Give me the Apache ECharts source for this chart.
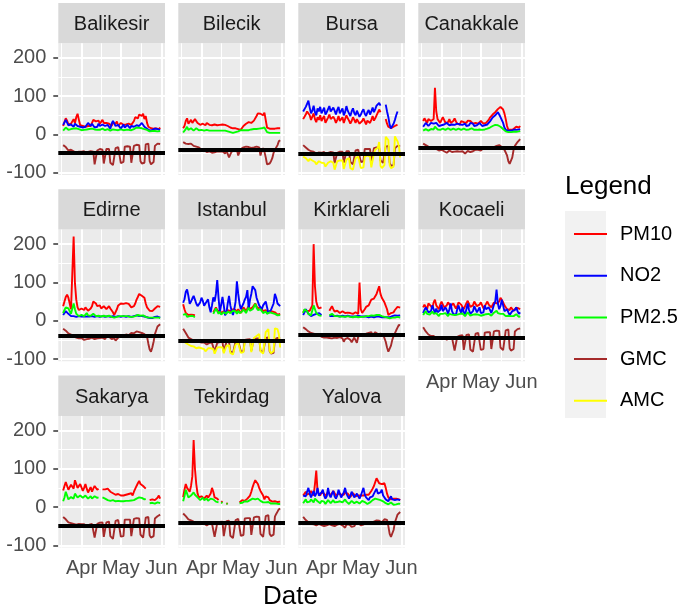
<!DOCTYPE html>
<html><head><meta charset="utf-8">
<script src="https://cdn.jsdelivr.net/npm/echarts@6/dist/echarts.min.js"></script>
<style>html,body{margin:0;padding:0;background:#fff}#c{width:684px;height:610px}</style>
</head><body><div id="c"></div>
<script>
// ---------- categories / labels ----------
const cities = ['Balikesir','Bilecik','Bursa','Canakkale','Edirne','Istanbul','Kirklareli','Kocaeli','Sakarya','Tekirdag','Yalova'];
const variables = ['PM10','NO2','PM2.5','GMC','AMC'];
const colors = ['#FF0000','#0000FF','#00FF00','#A52A2A','#FFFF00'];
const startDate = '2020-03-18'; // daily values, Mar 18 .. May 31 2020
const tickDates = ['2020-04-01','2020-05-01','2020-06-01'];
const tickLabels = ['Apr','May','Jun'];
const minorDates = ['2020-03-16T12:00:00Z','2020-04-16T00:00:00Z','2020-05-16T12:00:00Z'];
const yTicks = [-100, 0, 100, 200];
const yMinor = [-50, 50, 150];
const hlineValues = [-47, -40, -50, -35, -39, -53, -36, -44, -50, -41, -41];

// ---------- series values ----------
const Balikesir_PM10 = [22,32,42,36,26, 30,28,34,40,30, 45,54,38,24,20, 22,25,20,24,22, 26,22,30,38,40, 34,30,36,28,32, 38,30,26,30,34, 28,24,22,30,26, 28,34,22,26,30, 28,25,30,26,24, 28,30,25,28,35, 45,50,42,52,55, 48,54,40,48,30, 20,18,16,20,15, 18,16,20,14,18];
const Balikesir_NO2 = [25,30,38,34,24, 22,26,24,20,28, 25,22,18,20,16, 18,15,20,25,30, 26,22,28,24,18, 15,20,28,22,18, 26,30,22,18,25, 20,15,28,35,30, 22,18,25,20,15, 20,26,18,22,25, 20,16,22,26,20, 18,24,28,22,26, 30,25,20,24,15, 12,10,8,12,10, 15,20,14,10,12];
const Balikesir_PM25 = [10,14,18,15,12, 12,14,13,15,12, 16,18,14,12,11, 10,12,10,13,15, 14,12,15,16,13, 11,12,14,12,13, 15,13,11,12,14, 12,10,11,13,12, 12,14,11,12,13, 12,11,13,12,11, 12,13,11,12,14, 16,18,15,17,18, 16,17,14,15,12, 9,8,7,9,8, 9,10,8,7,9];
const Balikesir_GMC = [-28,-30,-33,-36,-42, -38,-40,-42,-44,-43, -48,-50,-45,-44,-45, -46,-44,-50,-52,-46, -45,-44,-43,-45,-78, -80,-42,-40,-38,-39, -40,-76,-79,-38,-36, -38,-74,-78,-80,-77, -36,-34,-33,-35,-75, -78,-72,-32,-30,-31, -30,-32,-74,-76,-30, -28,-27,-26,-28,-70, -76,-78,-74,-26,-25, -24,-70,-78,-80,-72, -30,-26,-24,-22,-25];

const Bilecik_PM10 = [16,22,35,42,28, 24,38,30,26,40, 44,30,28,25,30, 28,26,24,30,26, 25,28,24,22,26, 28,24,22,25,27, 26,24,25,23,22, 20,18,17,16,18, 16,15,14,13,12, 14,22,26,28,30, 32,28,30,34,36, 40,48,55,58,54, 56,50,57,52,18, 14,15,14,15,16, 15,14,16,15,16];
const Bilecik_PM25 = [5,8,14,20,12, 10,16,12,10,14, 16,12,11,10,12, 11,10,9,12,11, 10,11,10,9,10, 11,10,9,10,11, 10,9,10,9,8, 7,6,5,4,5, 6,7,8,10,11, 12,11,10,11,12, 11,12,13,12,14, 15,14,16,15,17, 16,15,18,14,6, 5,4,5,4,5, 4,5,4,3,4];
const Bilecik_GMC = [-20,-22,-24,-22,-25, -26,-24,-28,-30,-27, -32,-35,-34,-38,-40, -42,-40,-44,-46,-45, -44,-46,-48,-45,-47, -48,-44,-46,-45,-43, -44,-46,-50,-42,-44, -60,-52,-45,-44,-42, -43,-40,-55,-50,-38, -36,-34,-35,-32,-30, -33,-31,-35,-38,-34, -30,-32,-28,-34,-55, -42,-36,-45,-60,-78, -81,-76,-70,-62,-48, -40,-35,-28,-18,-15];

const Bursa_PM10 = [40,45,52,60,65, 50,38,42,55,40, 32,45,38,50,35, 42,48,30,35,44, 52,40,36,46,40, 30,38,48,35,40, 45,30,34,50,42, 36,28,35,45,38, 30,40,36,28,32, 35,42,34,26,36, 40,30,38,48,36, 42,50,55,65,58, null,null,null,40,28, 20,18,16,18,20, 22,24,25,null,null];
const Bursa_NO2 = [60,65,72,80,88, 70,55,62,75,58, 50,68,60,72,55, 62,70,52,58,66, 74,60,56,70,62, 52,64,72,55,60, 68,50,58,74,62, 55,48,60,68,56, 50,62,58,46,52, 60,66,54,48,58, 64,52,60,70,58, 66,75,70,82,75, null,null,null,78,60, 45,25,16,18,28, 38,50,60,null,null];
const Bursa_GMC = [-28,-30,-34,-37,-40, -42,-44,-46,-45,-46, -50,-52,-47,-46,-48, -47,-46,-52,-54,-48, -47,-46,-48,-47,-75, -80,-48,-46,-45,-46, -45,-74,-78,-44,-43, -44,-72,-76,-78,-74, -42,-41,-40,-42,-72, -76,-70,-38,-37,-38, -37,-38,-70,-74,-36, -35,-34,-33,-35,-68, -72,-74,-70,-32,-30, -30,-74,-82,-85,-80, -36,-32,-30,-28,-30];
const Bursa_AMC = [-58,-60,-62,-66,-70, -64,-66,-68,-70,-72, -78,-80,-70,-72,-74, -72,-75,-84,-86,-74, -72,-70,-72,-74,-92, -92,-70,-66,-68,-66, -68,-90,-92,-66,-64, -62,-88,-90,-92,-90, -62,-60,-58,-62,-88, -90,-86,-58,-56,-54, -55,-58,-86,-88,-50, -40,-38,-35,-20,-82, -88,-86,-80,-6,-10, -15,-80,-88,-90,-84, -5,-12,-18,-30,-60];

const Canakkale_PM10 = [35,42,38,30,40, 45,35,30,40,122, 60,40,35,30,28, 45,38,30,26,32, 40,30,28,35,42, 34,28,30,26,35, 38,32,28,30,36, 40,35,30,28,32, 30,26,28,32,35, 30,28,26,30,34, 38,44,48,52,55, 58,62,66,70,72, 74,65,55,40,22, 12,14,12,16,14, 18,20,15,18,22];
const Canakkale_NO2 = [20,25,30,28,22, 25,30,32,28,26, 30,25,22,20,24, 28,26,22,30,32, 24,20,26,30,25, 22,28,32,26,22, 25,30,28,22,20, 24,30,33,28,22, 20,24,28,30,26, 22,20,24,28,26, 30,34,38,44,48, 50,55,58,52,45, 40,30,18,12,10, 10,12,10,11,12, 14,12,10,13,14];
const Canakkale_PM25 = [10,12,14,12,10, 12,14,15,13,20, 16,13,11,12,14, 15,13,12,14,16, 14,12,13,15,14, 12,13,15,14,12, 13,15,14,12,11, 13,15,16,14,12, 11,12,14,13,12, 12,11,13,14,15, 16,18,20,22,24, 25,26,24,22,20, 18,14,10,8,7, 6,7,6,8,7, 8,7,6,8,9];
const Canakkale_GMC = [-24,-26,-28,-30,-32, -30,-33,-35,-36,-34, -38,-40,-42,-38,-40, -42,-44,-46,-48,-44, -42,-44,-46,-43,-45, -48,-44,-42,-45,-47, -44,-46,-50,-45,-43, -42,-46,-48,-44,-42, -40,-38,-40,-44,-42, -40,-36,-35,-34,-36, -34,-32,-35,-36,-33, -32,-30,-34,-28,-30, -33,-30,-40,-45,-55, -70,-77,-72,-60,-40, -30,-25,-20,-15,-12];

const Edirne_PM10 = [38,50,62,68,60, 55,30,25,220,98, 55,35,28,25,32, 30,28,35,30,26, 30,32,38,50,55, 45,38,35,40,32, 36,38,34,30,35, 38,32,28,22,15, 18,30,40,42,45, 48,44,42,46,50, 44,40,35,30,38, 45,55,62,70,72, 65,70,60,45,35, 30,26,28,25,30, 32,35,38,40,36];
const Edirne_NO2 = [15,20,25,22,18, 14,12,10,12,11, 10,11,12,10,11, 12,11,10,11,12, 11,10,12,11,10, 11,12,11,10,11, 12,11,10,11,12, 11,10,11,12,11, 10,11,12,11,10, 11,12,11,10,11, 12,11,10,11,12, 13,14,13,12,11, 12,13,11,10,9, 8,7,6,7,8, 10,12,11,9,8];
const Edirne_PM25 = [20,28,35,40,32, 28,18,15,45,30, 18,14,12,13,15, 14,12,15,20,14, 12,13,15,18,14, 12,11,13,12,11, 12,13,12,11,12, 13,12,10,9,8, 9,10,11,12,13, 12,11,12,13,12, 11,10,9,10,11, 12,14,15,14,13, 12,14,12,10,9, 8,7,8,9,8, 7,8,9,8,7];
const Edirne_GMC = [-21,-24,-26,-30,-33, -35,-36,-38,-40,-42, -44,-45,-46,-44,-45, -48,-50,-52,-48,-46, -47,-45,-44,-46,-48, -50,-46,-44,-45,-43, -44,-46,-48,-42,-40, -42,-45,-48,-50,-46, -52,-48,-44,-40,-38, -40,-42,-38,-36,-35, -38,-34,-32,-30,-33, -30,-28,-32,-30,-28, -32,-30,-35,-38,-42, -60,-75,-81,-70,-55, -35,-25,-15,-10,-9];

const Istanbul_PM10 = [43,30,20,16,15, 14,16,18,15,14, null,null,null,null,null, null,null,null,null,null, null,null,null,22,25, 35,30,22,28,20, 18,25,30,22,28, 32,25,20,30,35, 28,22,30,25,20, 28,35,30,25,32, 38,30,28,35,40, 45,38,32,28,35, 30,25,20,28,22, 18,25,30,24,20, 22,18,16,20,18];
const Istanbul_NO2 = [47,56,75,82,65, 44,50,58,65,55, 45,38,35,48,60, 52,39,45,50,56, 35,22,40,61,50, 70,106,60,22,25, 62,40,14,20,45, 65,40,25,15,30, 50,103,70,45,30, 38,45,55,62,80, 30,55,70,90,95, 80,60,50,40,35, 30,40,45,50,35, 20,25,28,30,45, 70,60,45,40,38];
const Istanbul_PM25 = [15,12,18,10,9, 12,15,13,10,9, null,null,null,null,null, null,null,null,null,null, null,null,null,18,22, 32,25,18,24,16, 15,22,26,18,24, 28,20,16,26,30, 24,18,26,20,16, 24,30,26,20,28, 34,26,24,30,36, 44,34,28,24,30, 26,20,16,24,18, 15,22,26,20,16, 18,15,14,17,15];
const Istanbul_GMC = [-21,-26,-32,-38,-44, -46,-48,-50,-52,-53, -55,-57,-55,-56,-57, -58,-57,-60,-62,-58, -58,-57,-58,-59,-80, -84,-58,-57,-56,-57, -56,-80,-84,-56,-55, -56,-80,-84,-85,-82, -54,-53,-52,-53,-80, -84,-80,-50,-50,-49, -50,-48,-78,-82,-48, -47,-46,-45,-46,-78, -82,-84,-80,-45,-44, -44,-80,-86,-88,-84, -48,-46,-45,-44,-46];
const Istanbul_AMC = [-50,-55,-58,-60,-62, -64,-66,-68,-67,-70, -72,-74,-70,-71,-72, -73,-74,-80,-82,-72, -71,-72,-73,-74,-86, -88,-70,-68,-69,-68, -70,-85,-88,-66,-65, -64,-84,-86,-88,-86, -62,-60,-58,-60,-84, -86,-82,-55,-52,-50, -52,-50,-82,-85,-45, -42,-40,-38,-35,-80, -84,-86,-82,-30,-25, -22,-78,-85,-86,-80, -20,-18,-22,-35,-70];

const Kirklareli_PM10 = [21,28,32,25,30, 26,30,40,200,90, 50,38,32,28,35, null,null,null,null,null, 26,32,38,30,24, 22,26,24,20,22, 25,22,20,23,21, 24,20,22,18,20, 22,20,18,100,30, 20,25,30,36,34, 40,48,55,50,58, 62,70,80,90,70, 60,55,48,52,30, 15,18,20,24,22, 28,32,36,38,34];
const Kirklareli_NO2 = [15,22,30,24,18, 14,12,13,15,14, 18,22,20,16,15, null,null,null,null,null, 12,14,13,11,12, 14,13,12,11,12, 13,12,11,12,13, 12,11,10,11,12, 11,12,13,12,11, 10,11,12,11,10, 9,10,11,10,9, 10,11,12,11,10, 9,8,9,10,9, 8,9,10,12,13, 14,15,13,12,14];
const Kirklareli_PM25 = [20,30,34,25,18, 15,14,18,40,30, 20,16,14,12,13, null,null,null,null,null, 14,16,18,13,12, 11,12,13,11,10, 11,12,10,11,12, 11,10,11,9,10, 11,10,9,12,10, 9,10,11,12,11, 12,13,14,12,13, 14,15,16,15,13, 12,11,10,11,9, 7,6,7,8,7, 8,9,10,9,8];
const Kirklareli_GMC = [-17,-20,-22,-25,-28, -30,-32,-33,-34,-35, -36,-38,-37,-40,-42, -43,-44,-45,-44,-46, -45,-44,-46,-45,-44, -46,-45,-44,-43,-45, -46,-55,-48,-44,-45, -42,-50,-56,-52,-44, -45,-58,-42,-40,-38, -36,-35,-38,-34,-36, -32,-34,-30,-38,-33, -30,-32,-35,-30,-34, -32,-36,-40,-55,-70, -81,-78,-65,-50,-40, -35,-25,-18,-11,-12];

const Kocaeli_PM10 = [35,42,38,30,45, 50,38,32,48,55, 40,35,30,42,50, 45,35,32,40,48, 52,38,34,45,40, 32,38,48,50,42, 36,30,38,46,52, 44,36,32,40,50, 45,38,34,42,48, 40,32,36,44,50, 42,38,35,40,48, 52,45,40,50,60, 55,48,40,35,30, 32,28,35,30,26, 30,34,38,32,30];
const Kocaeli_NO2 = [20,28,35,30,22, 18,25,40,30,20, 32,22,18,28,42, 25,20,35,28,18, 30,45,25,18,22, 15,30,40,28,20, 35,22,16,30,45, 28,18,15,25,38, 30,22,28,35,20, 15,22,40,30,25, 35,28,20,30,42, 50,81,45,30,38, 55,40,25,20,30, 22,15,18,25,20, 28,35,25,18,22];
const Kocaeli_PM25 = [15,20,25,18,14, 16,20,24,18,15, 20,16,12,18,22, 18,14,20,16,12, 18,22,16,12,15, 11,16,20,18,14, 19,15,12,17,22, 18,13,11,16,20, 17,14,16,19,13, 11,15,20,17,15, 18,16,13,17,21, 24,26,20,16,18, 22,18,14,12,15, 13,10,12,15,12, 14,17,13,10,12];
const Kocaeli_GMC = [-17,-22,-28,-32,-36, -38,-40,-41,-40,-42, -45,-47,-43,-42,-44, -45,-44,-48,-50,-45, -44,-43,-44,-45,-78, -82,-42,-40,-39,-40, -38,-76,-80,-37,-36, -36,-75,-79,-81,-77, -34,-33,-32,-34,-76, -79,-74,-31,-30,-30, -29,-30,-74,-77,-28, -27,-26,-25,-27,-70, -75,-77,-74,-25,-24, -23,-72,-78,-80,-74, -28,-24,-22,-20,-20];

const Sakarya_PM10 = [43,55,65,60,45, 40,58,62,48,70, 65,50,45,60,55, 42,50,60,48,38, 45,52,40,48,55, 50,45,48,null,null, 46,50,46,42,48, 44,40,35,36,38, 32,28,34,38,30, 26,30,35,32,28, 34,38,36,30,40, 45,55,62,68,60, 65,55,50,48,null, null,18,15,20,16, 18,20,24,30,22];
const Sakarya_PM25 = [15,25,40,30,20, 18,26,30,22,35, 32,25,22,30,28, 24,26,30,25,22, 24,28,22,26,28, 26,24,25,null,null, 25,26,22,20,18, 17,16,15,18,16, 15,14,16,17,15, 14,15,17,16,15, 16,18,17,15,18, 20,22,24,25,22, 24,22,20,21,null, null,10,9,11,10, 9,10,12,11,10];
const Sakarya_GMC = [-26,-28,-32,-36,-40, -40,-42,-43,-44,-43, -46,-48,-44,-43,-45, -46,-45,-50,-52,-47, -46,-45,-44,-46,-80, -84,-44,-42,-41,-42, -40,-78,-82,-40,-38, -38,-76,-80,-83,-79, -36,-35,-34,-36,-77, -80,-76,-33,-32,-33, -32,-33,-76,-79,-31, -30,-29,-28,-30,-72, -77,-80,-76,-28,-27, -26,-74,-80,-82,-76, -30,-26,-24,-21,-20];

const Tekirdag_PM10 = [26,45,60,50,45, 40,55,80,175,100, 60,35,25,20,28, 30,22,25,30,24, 28,35,50,40,25, 20,22,18,null,15, 12,null,null,10,8, null,null,null,null,null, null,null,null,12,15, 18,14,16,20,22, 25,30,40,52,62, 70,66,60,50,42, 38,30,20,28,32, 25,18,15,14,16, 15,14,13,15,14];
const Tekirdag_PM25 = [15,28,45,35,25, 22,30,35,38,32, 28,25,20,18,22, 24,18,20,22,16, 18,22,26,20,16, 14,15,12,null,12, 10,null,null,9,8, null,null,null,null,null, null,null,null,10,12, 11,13,15,12,14, 16,18,20,22,18, 20,24,22,18,16, 14,12,10,12,14, 13,10,9,8,9, 8,9,7,8,8];
const Tekirdag_GMC = [-17,-20,-24,-28,-32, -33,-35,-36,-38,-37, -40,-42,-40,-41,-43, -44,-43,-46,-48,-44, -43,-42,-43,-44,-78, -82,-42,-40,-39,-40, -38,-76,-80,-37,-36, -36,-75,-79,-81,-76, -34,-33,-31,-33,-75, -78,-73,-30,-29,-29, -28,-29,-73,-76,-27, -26,-25,-24,-26,-70, -75,-78,-74,-24,-22, -21,-70,-76,-79,-72, -25,-18,-12,-6,-4];

const Yalova_PM10 = [30,35,40,32,28, 36,42,38,30,60, 95,40,35,30,38, 42,35,28,32,40, 36,30,34,42,38, 30,28,35,40,33, 28,32,38,42,35, 30,26,30,36,32, 28,25,30,34,30, 26,30,35,32,28, 32,36,42,48,55, 65,75,70,62,65, 60,58,62,50,35, 25,22,20,24,22, 20,22,25,20,18];
const Yalova_NO2 = [30,35,28,40,50, 35,25,30,42,28, 35,50,30,25,38, 45,30,22,28,50, 32,25,35,42,28, 22,30,45,35,25, 30,38,50,35,28, 22,30,40,32,25, 28,35,30,22,30, 40,50,32,25,20, 18,25,30,28,35, 40,48,35,30,38, 45,30,25,20,18, 15,22,28,20,15, 18,16,20,22,18];
const Yalova_PM25 = [10,15,20,12,8, 14,20,18,12,22, 25,15,12,10,16, 20,14,8,12,18, 15,10,14,18,12, 9,13,18,15,10, 12,16,20,14,11, 8,12,16,14,10, 11,14,12,9,13, 16,18,13,10,8, 10,12,15,18,20, 22,24,20,16,18, 20,15,12,10,9, 7,10,12,9,6, 8,7,10,9,8];
const Yalova_GMC = [-26,-30,-34,-38,-40, -42,-44,-43,-45,-46, -48,-46,-44,-45,-47, -48,-50,-52,-48,-46, -45,-47,-48,-46,-50, -52,-46,-45,-44,-46, -48,-52,-54,-46,-44, -45,-50,-52,-54,-50, -44,-43,-42,-44,-48, -50,-46,-42,-40,-41, -40,-38,-42,-44,-38, -36,-35,-34,-36,-38, -40,-36,-32,-30,-34, -50,-70,-78,-76,-60, -40,-30,-20,-15,-13];

const cityData = {
  Balikesir: {PM10: Balikesir_PM10, NO2: Balikesir_NO2, 'PM2.5': Balikesir_PM25, GMC: Balikesir_GMC},
  Bilecik: {PM10: Bilecik_PM10, 'PM2.5': Bilecik_PM25, GMC: Bilecik_GMC},
  Bursa: {PM10: Bursa_PM10, NO2: Bursa_NO2, GMC: Bursa_GMC, AMC: Bursa_AMC},
  Canakkale: {PM10: Canakkale_PM10, NO2: Canakkale_NO2, 'PM2.5': Canakkale_PM25, GMC: Canakkale_GMC},
  Edirne: {PM10: Edirne_PM10, NO2: Edirne_NO2, 'PM2.5': Edirne_PM25, GMC: Edirne_GMC},
  Istanbul: {PM10: Istanbul_PM10, NO2: Istanbul_NO2, 'PM2.5': Istanbul_PM25, GMC: Istanbul_GMC, AMC: Istanbul_AMC},
  Kirklareli: {PM10: Kirklareli_PM10, NO2: Kirklareli_NO2, 'PM2.5': Kirklareli_PM25, GMC: Kirklareli_GMC},
  Kocaeli: {PM10: Kocaeli_PM10, NO2: Kocaeli_NO2, 'PM2.5': Kocaeli_PM25, GMC: Kocaeli_GMC},
  Sakarya: {PM10: Sakarya_PM10, 'PM2.5': Sakarya_PM25, GMC: Sakarya_GMC},
  Tekirdag: {PM10: Tekirdag_PM10, 'PM2.5': Tekirdag_PM25, GMC: Tekirdag_GMC},
  Yalova: {PM10: Yalova_PM10, NO2: Yalova_NO2, 'PM2.5': Yalova_PM25, GMC: Yalova_GMC}
};

// ---------- layout / scales ----------
const FONT = '"Liberation Sans", Arial, sans-serif';
const DAY = 86400000;
const t0 = Date.parse(startDate + 'T00:00:00Z');
const nDays = Balikesir_PM10.length;
const tEnd = t0 + (nDays - 1) * DAY;
const span = tEnd - t0;
const xMin = t0 - 0.05 * span, xMax = tEnd + 0.05 * span;
const tickTimes = tickDates.map(s => Date.parse(s + 'T00:00:00Z'));
const minorTimes = minorDates.map(s => Date.parse(s));
const yMin = -106, yMax = 238;

const PANEL_W = 106.7, PANEL_H = 131.7, STRIP_H = 40.3;
function panelBox(i) {
  const col = i % 4, row = Math.floor(i / 4);
  return {left: 58.3 + 120 * col, top: 43.3 + 186.3 * row, width: PANEL_W, height: PANEL_H, col, row};
}

const grids = [], xAxes = [], yAxes = [], series = [], graphics = [];
cities.forEach((city, i) => {
  const b = panelBox(i);
  const showX = b.row === 2 || i === 7;
  const showY = b.col === 0;
  grids.push({left: b.left, top: b.top, width: b.width, height: b.height, show: true,
    backgroundColor: '#EBEBEB', borderWidth: 0, containLabel: false});
  xAxes.push({type: 'value', gridIndex: i, min: xMin, max: xMax, scale: true,
    axisLine: {show: false},
    axisTick: {show: showX, customValues: tickTimes, length: 5, lineStyle: {color: '#333333', width: 1.5}},
    axisLabel: {show: showX, customValues: tickTimes, color: '#4D4D4D', fontSize: 20, fontFamily: FONT, margin: 11,
      formatter: v => { const k = tickTimes.findIndex(t => Math.abs(t - v) < DAY / 2); return k >= 0 ? tickLabels[k] : ''; }},
    splitLine: {show: false}});
  yAxes.push({type: 'value', gridIndex: i, min: yMin, max: yMax,
    axisLine: {show: false},
    axisTick: {show: showY, customValues: yTicks, length: 5, lineStyle: {color: '#333333', width: 1.5}},
    axisLabel: {show: showY, customValues: yTicks, color: '#4D4D4D', fontSize: 20, fontFamily: FONT, margin: 12},
    splitLine: {show: false}});

  // panel grid lines (white)
  const gl = [];
  yMinor.forEach(v => gl.push({yAxis: v, lineStyle: {color: '#FFFFFF', width: 1, type: 'solid'}}));
  minorTimes.forEach(t => gl.push({xAxis: t, lineStyle: {color: '#FFFFFF', width: 1, type: 'solid'}}));
  yTicks.forEach(v => gl.push({yAxis: v, lineStyle: {color: '#FFFFFF', width: 2, type: 'solid'}}));
  tickTimes.forEach(t => gl.push({xAxis: t, lineStyle: {color: '#FFFFFF', width: 2, type: 'solid'}}));
  series.push({type: 'line', xAxisIndex: i, yAxisIndex: i, data: [], silent: true, z: 1,
    markLine: {silent: true, symbol: 'none', z: 1, label: {show: false}, emphasis: {disabled: true}, animation: false, data: gl}});

  // data lines
  variables.forEach((v, k) => {
    const vals = cityData[city][v];
    if (!vals) return;
    series.push({type: 'line', name: v, xAxisIndex: i, yAxisIndex: i,
      data: vals.map((y, d) => [t0 + d * DAY, y]),
      showSymbol: false, symbol: 'none', connectNulls: false, silent: true, z: 2 + k,
      color: colors[k], itemStyle: {color: colors[k]},
      lineStyle: {color: colors[k], width: 1.9}, emphasis: {disabled: true}});
  });

  // black reference line
  series.push({type: 'line', xAxisIndex: i, yAxisIndex: i, data: [], silent: true, z: 9,
    markLine: {silent: true, symbol: 'none', z: 9, label: {show: false}, emphasis: {disabled: true}, animation: false,
      data: [{yAxis: hlineValues[i], lineStyle: {color: '#000000', width: 4, type: 'solid'}}]}});

  // strip
  graphics.push({type: 'rect', x: b.left, y: b.top - STRIP_H, shape: {width: b.width, height: STRIP_H},
    style: {fill: '#D9D9D9'}, silent: true});
  graphics.push({type: 'text', x: b.left + b.width / 2, y: b.top - 18.8, silent: true,
    style: {text: city, fill: '#1A1A1A', fontSize: 20, fontFamily: FONT, align: 'center', verticalAlign: 'middle'}});
});

graphics.push({type: 'rect', x: 565, y: 211, shape: {width: 41, height: 207}, style: {fill: '#F2F2F2'}, silent: true, z: -1});
graphics.push({type: 'text', x: 565, y: 187, silent: true,
  style: {text: 'Legend', fill: '#000000', fontSize: 26, fontFamily: FONT, align: 'left', verticalAlign: 'middle'}});
graphics.push({type: 'text', x: 290.5, y: 597, silent: true,
  style: {text: 'Date', fill: '#000000', fontSize: 26, fontFamily: FONT, align: 'center', verticalAlign: 'middle'}});

const chart = echarts.init(document.getElementById('c'), null, {renderer: 'canvas'});
chart.setOption({
  animation: false,
  backgroundColor: '#FFFFFF',
  textStyle: {fontFamily: FONT},
  grid: grids, xAxis: xAxes, yAxis: yAxes, series: series,
  legend: {data: variables, orient: 'vertical', left: 569, top: 219, icon: 'rect',
    itemWidth: 33, itemHeight: 2, itemGap: 21.7, selectedMode: false,
    textStyle: {fontSize: 20, color: '#000000', fontFamily: FONT, lineHeight: 20, padding: [0, 0, 0, 8]}},
  graphic: {elements: graphics}
});
</script></body></html>
